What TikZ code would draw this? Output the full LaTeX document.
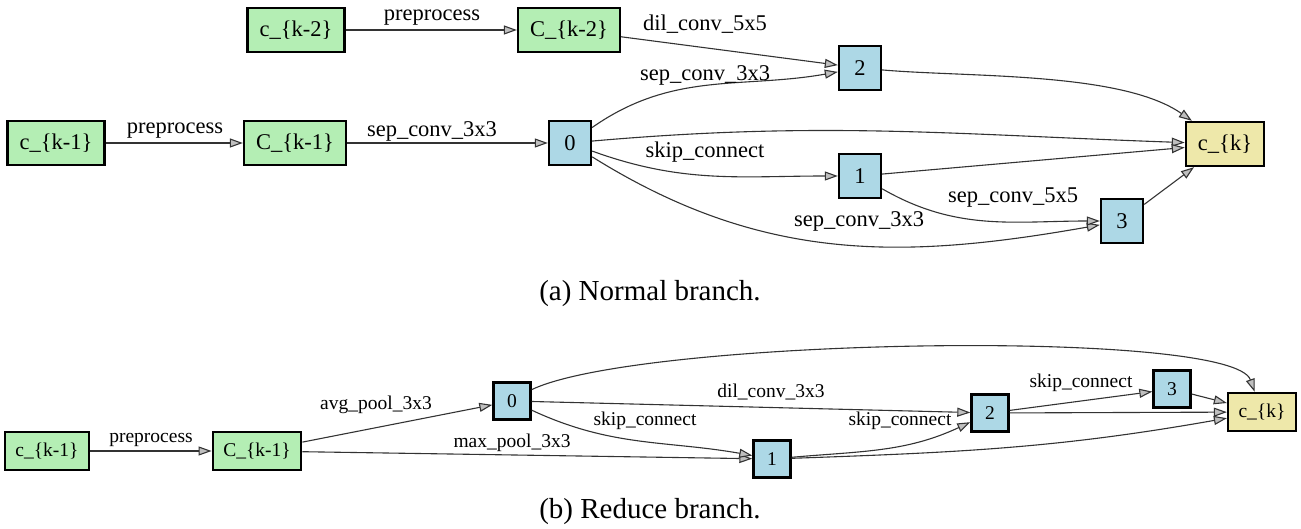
\documentclass[tikz,border=0pt]{standalone}
\usepackage{fontspec}
\setmainfont{Liberation Serif}
\usetikzlibrary{arrows.meta}

\definecolor{cellgreen}{HTML}{B4EEB4}
\definecolor{opblue}{HTML}{ADD8E6}
\definecolor{outyellow}{HTML}{EEE8AA}

\begin{document}
\begin{tikzpicture}[
    x=1pt, y=-1pt,
    box/.style={draw, line width=2.4pt, inner xsep=12pt, inner ysep=0pt, minimum height=44pt, font=\fontsize{22.5}{26}\selectfont},
    inbox/.style={box, fill=cellgreen},
    opbox/.style={box, fill=opblue, minimum width=42pt, inner xsep=0pt},
    outbox/.style={box, fill=outyellow},
    smallbox/.style={minimum height=38pt, inner xsep=10.5pt, font=\fontsize{19.5}{23}\selectfont},
    smallop/.style={minimum height=37pt, minimum width=37pt, inner xsep=0pt, font=\fontsize{19.5}{23}\selectfont},
    lbl/.style={inner sep=0pt, font=\fontsize{22.5}{26}\selectfont},
    smalllbl/.style={inner sep=0pt, font=\fontsize{19.5}{23}\selectfont},
    caption/.style={inner sep=0pt, font=\fontsize{29}{34}\selectfont},
    edge/.style={draw=black!80, line width=1.1pt, ->},
    >={Triangle[length=13pt, width=9pt, fill=gray!50]}
  ]
    \useasboundingbox (0,0) rectangle (1301,529);

    % (a) normal branch
    \node[inbox] (na_in2) at (296,30) {c\_\{k-2\}};
    \node[inbox] (na_pre2) at (569,30) {C\_\{k-2\}};
    \node[inbox] (na_in1) at (56,143) {c\_\{k-1\}};
    \node[inbox] (na_pre1) at (295,143) {C\_\{k-1\}};
    \node[opbox] (na0) at (570,143) {0};
    \node[opbox] (na2) at (860,68) {2};
    \node[opbox] (na1) at (860,176) {1};
    \node[opbox] (na3) at (1122,221) {3};
    \node[outbox] (na_out) at (1225,144) {c\_\{k\}};

    \draw[edge] (na_in2) -- (na_pre2);
    \draw[edge] (na_in1) -- (na_pre1);
    \draw[edge] (na_pre1) -- (na0);
    \draw[edge] (na_pre2) -- (na2);
    \draw[edge] (na0) to[out=35, in=190] (na2);
    \draw[edge] (na0) to[out=5, in=178] (na_out);
    \draw[edge] (na0) to[out=-20, in=180] (na1);
    \draw[edge] (na0) to[out=-32, in=190] (na3);
    \draw[edge] (na1) -- (na_out);
    \draw[edge] (na1) to[out=-30, in=180] (na3);
    \draw[edge] (na2) to[out=-5, in=145, looseness=0.7] (na_out);
    \draw[edge] (na3) -- (na_out);

    \node[lbl] (la_pre2) at (432,18) {preprocess};
    \node[lbl] (la_pre1) at (175,131) {preprocess};
    \node[lbl] (la_sep0) at (432,131) {sep\_conv\_3x3};
    \node[lbl] (la_dil2) at (705,24) {dil\_conv\_5x5};
    \node[lbl] (la_sep2) at (705,75) {sep\_conv\_3x3};
    \node[lbl] (la_skip1) at (705,152) {skip\_connect};
    \node[lbl] (la_sep13) at (1013,198) {sep\_conv\_5x5};
    \node[lbl] (la_sep03) at (859,221) {sep\_conv\_3x3};

    \node[caption] (capa) at (650,294) {(a) Normal branch.};

    % (b) reduce branch
    \node[inbox, smallbox] (nb_in1) at (47,451) {c\_\{k-1\}};
    \node[inbox, smallbox] (nb_pre1) at (257,451) {C\_\{k-1\}};
    \node[opbox, smallop] (nb0) at (512,401) {0};
    \node[opbox, smallop] (nb1) at (772,459) {1};
    \node[opbox, smallop] (nb2) at (990,413) {2};
    \node[opbox, smallop] (nb3) at (1172,389) {3};
    \node[outbox, smallbox] (nb_out) at (1262,412) {c\_\{k\}};

    \draw[edge] (nb_in1) -- (nb_pre1);
    \draw[edge] (nb_pre1) -- (nb0);
    \draw[edge] (nb_pre1) -- (nb1);
    \draw[edge] (nb0.30) .. controls (640,338) and (1232,328) .. (nb_out.110);
    \draw[edge] (nb0) -- (nb2);
    \draw[edge] (nb0) to[out=-25, in=170] (nb1);
    \draw[edge] (nb1) to[out=5, in=205] (nb2);
    \draw[edge] (nb1) to[out=2, in=190] (nb_out);
    \draw[edge] (nb2) -- (nb3);
    \draw[edge] (nb2) -- (nb_out);
    \draw[edge] (nb3) -- (nb_out);

    \node[smalllbl] (lb_pre1) at (151,440) {preprocess};
    \node[smalllbl] (lb_avg0) at (376,405) {avg\_pool\_3x3};
    \node[smalllbl] (lb_max1) at (512,443) {max\_pool\_3x3};
    \node[smalllbl] (lb_skip01) at (645,421) {skip\_connect};
    \node[smalllbl] (lb_dil2) at (771,392) {dil\_conv\_3x3};
    \node[smalllbl] (lb_skip12) at (900,421) {skip\_connect};
    \node[smalllbl] (lb_skip23) at (1081,383) {skip\_connect};

    \node[caption] (capb) at (650,512) {(b) Reduce branch.};
\end{tikzpicture}
\end{document}
